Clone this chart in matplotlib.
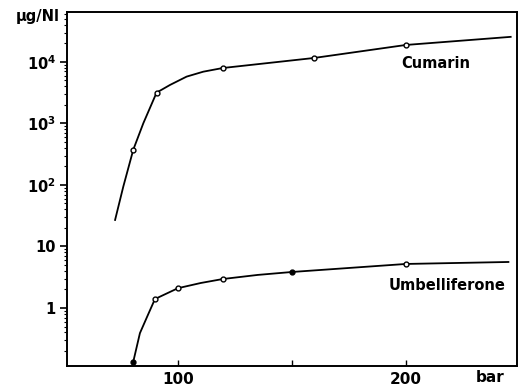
import matplotlib
matplotlib.use("Agg")
import matplotlib.pyplot as plt
from matplotlib.ticker import FixedLocator, FixedFormatter, LogLocator, NullFormatter

plt.rcParams['font.family'] = ['DejaVu Sans']
plt.rcParams['font.weight'] = 'bold'
plt.rcParams['mathtext.fontset'] = 'dejavusans'

# Cumarin: curve
cum_curve_x = [72.4, 76.0, 80.4, 84.8, 90.6, 96.5, 103.8, 111.1, 119.7, 159.6, 200, 246]
cum_curve_y = [27, 94, 376, 1010, 3170, 4230, 5780, 6950, 7980, 11600, 18900, 25600]
cum_pts_x = [80.4, 90.6, 119.7, 159.6, 200]
cum_pts_y = [376, 3170, 7980, 11600, 18900]

# Umbelliferone
umb_curve_x = [80.3, 83.3, 86.8, 89.9, 100, 110, 119.7, 135, 150, 200, 245]
umb_curve_y = [0.13, 0.39, 0.77, 1.4, 2.1, 2.55, 2.96, 3.45, 3.85, 5.2, 5.6]
umb_pts_x = [80.3, 89.9, 100, 119.7, 150, 200]
umb_pts_y = [0.13, 1.4, 2.1, 2.96, 3.85, 5.2]
umb_pts_filled = [True, False, False, False, True, False]

y_ticks = [1, 10, 100, 1000, 10000]
y_labels = ['1', '10', r'$\mathbf{10^2}$', r'$\mathbf{10^3}$', r'$\mathbf{10^4}$']
x_ticks = [100, 150, 200]
x_labels = ['100', '', '200']

fig = plt.figure(figsize=(5.21, 3.86), dpi=100)
ax = fig.add_axes([0.1286, 0.0518, 0.8634, 0.9172])
ax.set_yscale('log')
ax.set_xlim(51.3, 248.7)
ax.set_ylim(0.114, 6.5e4)

ax.plot(cum_curve_x, cum_curve_y, color='black', lw=1.3)
ax.plot(cum_pts_x, cum_pts_y, 'o', ms=3.5, mfc='white', mec='black', mew=1.0)
ax.plot(umb_curve_x, umb_curve_y, color='black', lw=1.3)
for x, y, f in zip(umb_pts_x, umb_pts_y, umb_pts_filled):
    ax.plot([x], [y], 'o', ms=3.5, mfc='black' if f else 'white', mec='black', mew=1.0)

ax.yaxis.set_major_locator(FixedLocator(y_ticks))
ax.yaxis.set_major_formatter(FixedFormatter(y_labels))
ax.yaxis.set_minor_locator(LogLocator(base=10, subs=range(2, 10), numticks=20))
ax.yaxis.set_minor_formatter(NullFormatter())
ax.xaxis.set_major_locator(FixedLocator(x_ticks))
ax.xaxis.set_major_formatter(FixedFormatter(x_labels))

ax.tick_params(axis='y', which='major', direction='out', length=5, width=1.2, pad=3, labelsize=10.5)
ax.tick_params(axis='y', which='minor', direction='out', length=2.5, width=0.8)
ax.tick_params(axis='x', which='major', direction='in', length=4, width=1.0, pad=4, labelsize=11)
for s in ax.spines.values():
    s.set_linewidth(1.4)

for lbl in ax.get_xticklabels() + ax.get_yticklabels():
    lbl.set_fontweight('bold')

fig.text(38/521, 1-17/386, 'µg/Nl', fontsize=10.5, fontweight='bold', va='center', ha='center')
fig.text(490/521, 1-378/386, 'bar', fontsize=11, fontweight='bold', va='center', ha='center')
ax.text(436/521, 1-63/386, 'Cumarin', transform=fig.transFigure, fontsize=10.5,
        fontweight='bold', ha='center', va='center')
ax.text(447/521, 1-286/386, 'Umbelliferone', transform=fig.transFigure, fontsize=10.5,
        fontweight='bold', ha='center', va='center')

fig.savefig('out.png', dpi=100)
